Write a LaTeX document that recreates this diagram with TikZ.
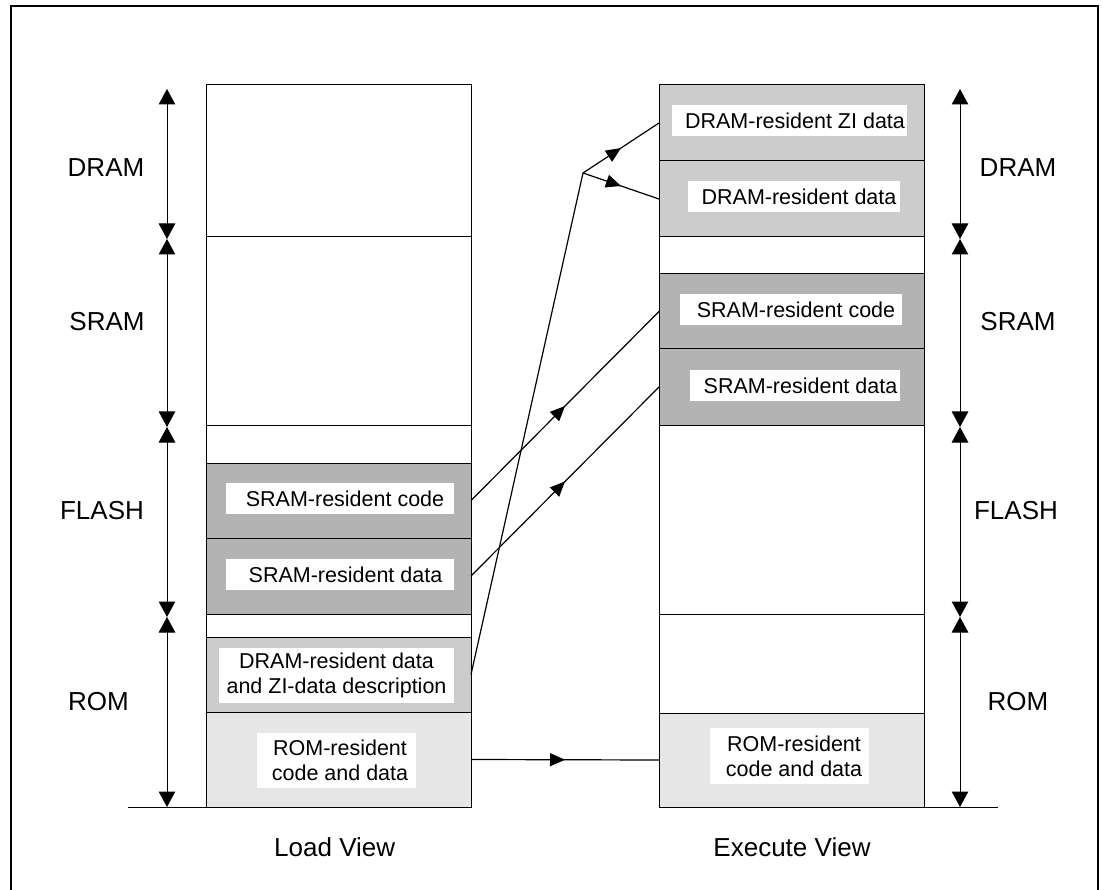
\documentclass[tikz,border=0pt]{standalone}
\usepackage{fontspec}
\setmainfont{Liberation Sans}
\usetikzlibrary{arrows.meta,decorations.markings}
\definecolor{sramfill}{HTML}{B3B3B3}
\definecolor{dramfill}{HTML}{CCCCCC}
\definecolor{romfill}{HTML}{E6E6E6}
\begin{document}
\begin{tikzpicture}[x=1pt,y=-1pt,
  region/.style={draw=black, line width=1pt, minimum width=265pt, anchor=north west, inner sep=0pt, outer sep=0pt},
  tag/.style={fill=white, inner sep=0pt, align=center, font=\fontsize{21.5}{25}\selectfont},
  lbl/.style={inner sep=0pt, font=\fontsize{26}{30}\selectfont},
  dimarrow/.style={line width=1pt, {Triangle[length=15.5pt,width=16.5pt]}-{Triangle[length=15.5pt,width=16.5pt]}},
  flow/.style={line width=1.2pt, postaction={decorate},
    decoration={markings, mark=at position 0.5 with {\arrow{Triangle[length=15pt,width=13pt]}}}},
  baseline rule/.style={line width=1pt},
]
\useasboundingbox (0,0) rectangle (1103,890);
% outer frame
\draw[line width=2.2pt] (11,6) rectangle (1098,900);

% ---------- Load view column ----------
\node[region, minimum height=152pt] (L1) at (206,85) {};
\node[region, minimum height=188pt] (L2) at (206,237) {};
\node[region, minimum height=38pt] (L3) at (206,425) {};
\node[region, fill=sramfill, minimum height=75pt] (L4) at (206,463) {};
\node[region, fill=sramfill, minimum height=76pt] (L5) at (206,538) {};
\node[region, minimum height=23pt] (L6) at (206,614) {};
\node[region, fill=dramfill, minimum height=75pt] (L7) at (206,637) {};
\node[region, fill=romfill, minimum height=95pt] (L8) at (206,712) {};

\node[tag, minimum width=228pt, minimum height=31pt] (L4t) at (340,498.5) {\hspace*{10pt}SRAM-resident code};
\node[tag, minimum width=228pt, minimum height=31pt] (L5t) at (340,574.5) {\hspace*{11pt}SRAM-resident data};
\node[tag, minimum width=235pt, minimum height=55pt] (L7t) at (336.5,675) {DRAM-resident data\\and ZI-data description};
\node[tag, minimum width=159pt, minimum height=55pt] (L8t) at (336.5,760) {\hspace*{7pt}ROM-resident\\\hspace*{7pt}code and data};

% ---------- Execute view column ----------
\node[region, fill=dramfill, minimum height=76pt] (R1) at (659,85) {};
\node[region, fill=dramfill, minimum height=76pt] (R2) at (659,161) {};
\node[region, minimum height=37pt] (R3) at (659,237) {};
\node[region, fill=sramfill, minimum height=75pt] (R4) at (659,274) {};
\node[region, fill=sramfill, minimum height=76pt] (R5) at (659,349) {};
\node[region, minimum height=189pt] (R6) at (659,425) {};
\node[region, minimum height=99pt] (R7) at (659,614) {};
\node[region, fill=romfill, minimum height=94pt] (R8) at (659,713) {};

\node[tag, minimum width=235pt, minimum height=31pt] (R1t) at (789.5,120.5) {\hspace*{11pt}DRAM-resident ZI data};
\node[tag, minimum width=212pt, minimum height=31pt] (R2t) at (794,196.5) {\hspace*{10pt}DRAM-resident data};
\node[tag, minimum width=222pt, minimum height=31pt] (R4t) at (791,309.5) {\hspace*{10pt}SRAM-resident code};
\node[tag, minimum width=210pt, minimum height=31pt] (R5t) at (795,385.5) {\hspace*{11pt}SRAM-resident data};
\node[tag, minimum width=159pt, minimum height=56pt] (R8t) at (789.5,756) {\hspace*{9pt}ROM-resident\\\hspace*{9pt}code and data};

% ---------- region labels ----------
\node[lbl] (lDRAM)  at (106,168) {DRAM};
\node[lbl] (lSRAM)  at (107,322) {SRAM};
\node[lbl] (lFLASH) at (102,511) {FLASH};
\node[lbl] (lROM)   at (98.5,702) {ROM};
\node[lbl] (rDRAM)  at (1018,168) {DRAM};
\node[lbl] (rSRAM)  at (1018,322) {SRAM};
\node[lbl] (rFLASH) at (1016,511) {FLASH};
\node[lbl] (rROM)   at (1018,702) {ROM};

\node[lbl] (loadv) at (334.7,847) {Load View};
\node[lbl] (execv) at (792,847) {Execute View};

% ---------- extent arrows ----------
\coordinate (la0) at (167,89);
\coordinate (la1) at (167,239);
\coordinate (la2) at (167,427);
\coordinate (la3) at (167,617);
\coordinate (la4) at (167,807);
\coordinate (ra0) at (960,89);
\coordinate (ra1) at (960,239);
\coordinate (ra2) at (960,427);
\coordinate (ra3) at (960,617);
\coordinate (ra4) at (960,807);
\draw[dimarrow] (la0) -- (la1);
\draw[dimarrow] (la1) -- (la2);
\draw[dimarrow] (la2) -- (la3);
\draw[dimarrow] (la3) -- (la4);
\draw[dimarrow] (ra0) -- (ra1);
\draw[dimarrow] (ra1) -- (ra2);
\draw[dimarrow] (ra2) -- (ra3);
\draw[dimarrow] (ra3) -- (ra4);

% base lines
\coordinate (lbase) at (128,807);
\coordinate (rbase) at (998,807);
\draw[baseline rule] (lbase) -- (L8.south west);
\draw[baseline rule] (R8.south east) -- (rbase);

% ---------- copy arrows ----------
\coordinate (split) at (583,173);
\draw[flow] (L8.east) -- (R8.west);
\draw[flow] (L4.east) -- (R4.west);
\draw[flow] (L5.east) -- (R5.west);
\draw[line width=1.2pt] (L7.east) -- (split);
\draw[flow] (split) -- (R1.west);
\draw[flow] (split) -- (R2.west);
\end{tikzpicture}
\end{document}
